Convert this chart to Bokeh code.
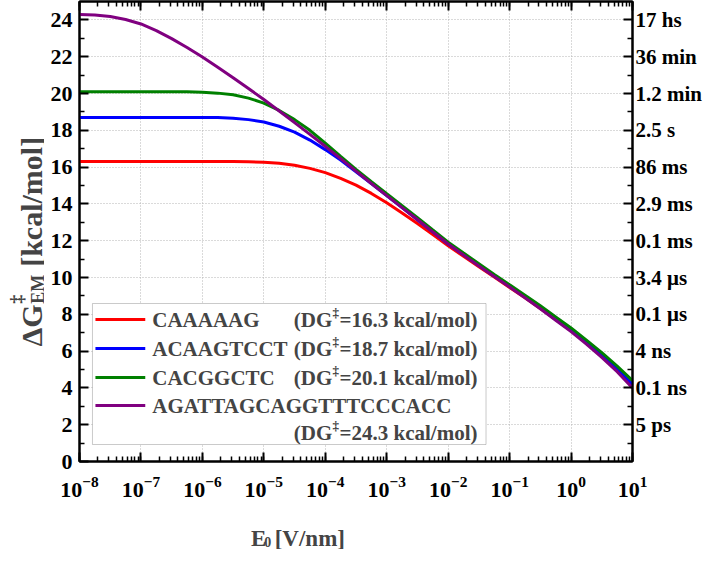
import math
from bokeh.plotting import figure
from bokeh.layouts import row, column
from bokeh.models import (LinearAxis, LogAxis, FixedTicker, LogTicker, Label,
                          BoxAnnotation, Range1d, CustomJSTickFormatter)
from bokeh.embed import file_html
from bokeh.resources import INLINE

# ---------------- data ----------------
log_E = [-8, -7.75, -7.5, -7.25, -7, -6.75, -6.5, -6.25, -6, -5.75, -5.5, -5.25,
         -5, -4.75, -4.5, -4.25, -4, -3.75, -3.5, -3.25, -3, -2.75, -2.5, -2.25,
         -2, -1.75, -1.5, -1.25, -1, -0.75, -0.5, -0.25, 0, 0.25, 0.5, 0.75, 1]
E0 = [10 ** v for v in log_E]

G_CAAAAAG = [16.30, 16.30, 16.30, 16.30, 16.30, 16.30, 16.30, 16.30, 16.30, 16.30, 16.30, 16.29,
             16.27, 16.21, 16.10, 15.93, 15.70, 15.39, 15.02, 14.57, 14.06, 13.51, 12.93, 12.33,
             11.73, 11.15, 10.59, 10.02, 9.45, 8.90, 8.32, 7.72, 7.10, 6.45, 5.76, 4.99, 4.15]
G_ACAAGTCCT = [18.70, 18.70, 18.70, 18.70, 18.70, 18.70, 18.70, 18.70, 18.70, 18.69, 18.66, 18.58,
               18.45, 18.22, 17.90, 17.47, 16.95, 16.38, 15.75, 15.10, 14.45, 13.80, 13.14, 12.48,
               11.82, 11.24, 10.66, 10.08, 9.52, 8.96, 8.38, 7.78, 7.16, 6.50, 5.81, 5.04, 4.20]
G_CACGGCTC = [20.10, 20.10, 20.10, 20.10, 20.10, 20.10, 20.10, 20.09, 20.07, 20.02, 19.93, 19.75,
              19.48, 19.08, 18.58, 18.00, 17.30, 16.58, 15.88, 15.21, 14.55, 13.90, 13.25, 12.58,
              11.92, 11.33, 10.75, 10.17, 9.60, 9.04, 8.46, 7.86, 7.26, 6.60, 5.92, 5.18, 4.40]
G_AGATT = [24.30, 24.27, 24.18, 24.02, 23.78, 23.42, 22.98, 22.50, 21.98, 21.43, 20.86, 20.27,
           19.67, 19.05, 18.42, 17.78, 17.13, 16.46, 15.78, 15.11, 14.45, 13.80, 13.15, 12.48,
           11.82, 11.22, 10.63, 10.05, 9.48, 8.90, 8.30, 7.68, 7.06, 6.38, 5.66, 4.88, 4.00]

SEQS = ["CAAAAAG", "ACAAGTCCT", "CACGGCTC", "AGATTAGCAGGTTTCCCACC"]
DG_VALUES = ["16.3", "18.7", "20.1", "24.3"]
COLORS = ["#ff0000", "#0000ff", "#008000", "#800080"]
SERIES = [G_CAAAAAG, G_ACAAGTCCT, G_CACGGCTC, G_AGATT]

Y_TICKS = [0, 2, 4, 6, 8, 10, 12, 14, 16, 18, 20, 22, 24]
Y_MINOR = [1, 3, 5, 7, 9, 11, 13, 15, 17, 19, 21, 23]
R_TICKS = [2, 4, 6, 8, 10, 12, 14, 16, 18, 20, 22, 24]
R_LABELS = ["5 ps", "0.1 ns", "4 ns", "0.1 \u03bcs", "3.4 \u03bcs", "0.1 ms",
            "2.9 ms", "86 ms", "2.5 s", "1.2 min", "36 min", "17 hs"]

# ---------------- layout constants ----------------
FONT = "Liberation Serif"
TOTAL_W, TOTAL_H = 705, 549
YT_W = 44                      # strip holding the vertical axis title
XT_H = 43                      # strip holding the horizontal axis title
MW, MH = TOTAL_W - YT_W, TOTAL_H - XT_H
FL, FT, FR, FB = 35, 1, 590, 461    # frame inside the main canvas
XLO, XHI, YLO, YHI = -8, 1, 0, 25
OX, OY = 8 + YT_W, 8                # page offset of the main canvas


def X(px):   # page x -> data x
    cx = px - OX
    return 10 ** (XLO + (cx - FL) / (FR - FL) * (XHI - XLO))


def Y(py):   # page y -> data y
    cy = py - OY
    return YLO + (YHI - YLO) * (FB - cy) / (FB - FT)


p = figure(width=MW, height=MH, x_axis_type="log", title=None,
           x_range=Range1d(10 ** XLO, 10 ** XHI), y_range=Range1d(YLO, YHI),
           output_backend="svg", toolbar_location=None,
           min_border_left=FL, min_border_right=MW - FR,
           min_border_top=FT, min_border_bottom=MH - FB)
p.outline_line_color = "black"
p.outline_line_width = 2
p.border_fill_color = "white"


def style_axis(ax):
    ax.axis_line_width = 2
    ax.axis_line_color = "black"
    ax.major_tick_in = 9
    ax.major_tick_out = 0
    ax.minor_tick_in = 5
    ax.minor_tick_out = 0
    ax.major_tick_line_width = 2
    ax.minor_tick_line_width = 1.5
    ax.major_label_text_font = FONT
    ax.major_label_text_font_style = "bold"
    ax.major_label_text_font_size = "22px"
    ax.major_label_text_color = "black"


xa = p.xaxis[0]
style_axis(xa)
xa.ticker = LogTicker(num_minor_ticks=10)
xa.major_label_standoff = 15

ya = p.yaxis[0]
style_axis(ya)
ya.ticker = FixedTicker(ticks=Y_TICKS, minor_ticks=Y_MINOR)
ya.major_label_standoff = 7

top = LogAxis(ticker=LogTicker(num_minor_ticks=10),
              formatter=CustomJSTickFormatter(code="return ''"))
style_axis(top)
top.major_label_text_font_size = "1px"
top.major_label_standoff = 0
p.add_layout(top, "above")

right = LinearAxis(ticker=FixedTicker(ticks=R_TICKS, minor_ticks=Y_MINOR),
                   major_label_overrides={t: s for t, s in zip(R_TICKS, R_LABELS)})
style_axis(right)
right.major_label_text_font_size = "21px"
right.major_label_standoff = 3
p.add_layout(right, "right")

for g in p.grid:
    g.grid_line_color = "#b4b4b4"
    g.grid_line_dash = "1 2"
    g.grid_line_width = 1
p.xgrid[0].ticker = xa.ticker
p.ygrid[0].ticker = FixedTicker(ticks=Y_TICKS[1:])

for ys, c in zip(SERIES, COLORS):
    p.line(E0, ys, line_color=c, line_width=3)

# ---------------- legend (custom, for the superscript) ----------------
p.add_layout(BoxAnnotation(left=X(100), right=X(495), top=Y(311), bottom=Y(452),
                           fill_color="white", fill_alpha=1.0,
                           line_color="#505050", line_width=1, level="underlay"))

ROW_Y = [327, 356, 385, 413]
LEG_FS = 21
for i, (seq, dg, c) in enumerate(zip(SEQS, DG_VALUES, COLORS)):
    cy = ROW_Y[i]
    p.line([X(103), X(153)], [Y(cy), Y(cy)], line_color=c, line_width=3)
    p.add_layout(Label(x=X(160), y=Y(cy), text=seq, text_font=FONT,
                       text_font_style="bold", text_font_size=f"{LEG_FS}px",
                       text_baseline="middle", text_align="left"))
    ry = cy if i < 3 else 440
    x0 = 302
    p.add_layout(Label(x=X(x0), y=Y(ry), text="(DG", text_font=FONT,
                       text_font_style="bold", text_font_size=f"{LEG_FS}px",
                       text_baseline="middle", text_align="left"))
    xs = x0 + 1833 * LEG_FS / 1000.0
    p.add_layout(Label(x=X(xs + 0.5), y=Y(ry - 7), text="\u2021", text_font=FONT,
                       text_font_style="bold", text_font_size="13px",
                       text_baseline="middle", text_align="left"))
    p.add_layout(Label(x=X(xs + 7.5), y=Y(ry), text=f"={dg} kcal/mol)", text_font=FONT,
                       text_font_style="bold", text_font_size=f"{LEG_FS}px",
                       text_baseline="middle", text_align="left"))

# ---------------- vertical axis title strip ----------------
yt = figure(width=YT_W, height=TOTAL_H, title=None,
            x_range=Range1d(0, YT_W), y_range=Range1d(TOTAL_H, 0),
            output_backend="svg", toolbar_location=None, min_border=0,
            x_axis_location=None, y_axis_location=None)
yt.outline_line_color = None
yt.grid.visible = False
TF = 30
bx = 31
y0 = 346
yt.add_layout(Label(x=bx, y=y0, text="\u0394G", angle=math.pi / 2,
                    text_font=FONT, text_font_style="bold", text_font_size=f"{TF}px",
                    text_baseline="alphabetic", text_align="left"))
y1 = y0 - 1390 * TF / 1000.0 - 1
yt.add_layout(Label(x=bx + 6, y=y1, text="EM", angle=math.pi / 2,
                    text_font=FONT, text_font_style="bold", text_font_size="18px",
                    text_baseline="alphabetic", text_align="left"))
yt.add_layout(Label(x=bx - 15, y=y1, text="\u2021", angle=math.pi / 2,
                    text_font=FONT, text_font_style="bold", text_font_size="18px",
                    text_baseline="alphabetic", text_align="left"))
y2 = y1 - 1611 * 18 / 1000.0 - 8
yt.add_layout(Label(x=bx, y=y2, text="[kcal/mol]", angle=math.pi / 2,
                    text_font=FONT, text_font_style="bold", text_font_size=f"{TF}px",
                    text_baseline="alphabetic", text_align="left"))

# ---------------- horizontal axis title strip ----------------
xt = figure(width=MW, height=XT_H, title=None,
            x_range=Range1d(0, MW), y_range=Range1d(XT_H, 0),
            output_backend="svg", toolbar_location=None, min_border=0,
            x_axis_location=None, y_axis_location=None)
xt.outline_line_color = None
xt.grid.visible = False
XF = 23
ex = 257 - OX
eb = 32
xt.add_layout(Label(x=ex, y=eb, text="E", text_font=FONT, text_font_style="bold",
                    text_font_size=f"{XF}px", text_baseline="alphabetic", text_align="left"))
xt.add_layout(Label(x=ex + 667 * XF / 1000.0 + 0.5, y=eb + 3, text="0", text_font=FONT,
                    text_font_style="bold", text_font_size="14px",
                    text_baseline="alphabetic", text_align="left"))
xt.add_layout(Label(x=ex + 667 * XF / 1000.0 + 7 + 6, y=eb, text="[V/nm]", text_font=FONT,
                    text_font_style="bold", text_font_size=f"{XF}px",
                    text_baseline="alphabetic", text_align="left"))

layout = row(yt, column(p, xt, spacing=0), spacing=0)
open("out.html", "w").write(file_html(layout, INLINE))
